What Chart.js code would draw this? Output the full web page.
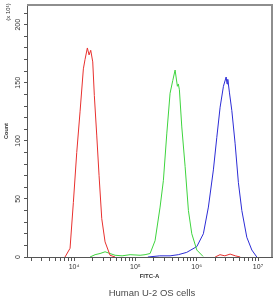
<!DOCTYPE html>
<html>
<head>
<meta charset="utf-8">
<script src="https://cdn.jsdelivr.net/npm/chart.js@4"></script>
<style>
  body { margin: 0; background: #fff; }
  #wrap { width: 275px; height: 300px; }
</style>
</head>
<body>
<div id="wrap"><canvas id="flowChart" width="275" height="300"></canvas></div>
<script>
// red histogram (FITC-A intensity, count x10)
const redFitc  = [7130, 8610, 9750, 11070, 12530, 14190, 15100, 16480, 17580, 18710, 20180, 21430, 23440, 25590, 28310, 32060, 38640, 46670];
const redCount = [0, 7.5, 47, 90, 125, 162, 170, 180, 174, 178, 168, 139, 105, 70, 33, 13, 1.5, 0];
// faint red noise near the blue peak
const redNoiseFitc  = [2000000, 2400000, 2880000, 3510000, 4270000, 5130000];
const redNoiseCount = [0, 2, 1, 2.5, 1, 0];

// green histogram
const greenFitc  = [18240, 22030, 26550, 32060, 38640, 46670, 60670, 82040, 119400, 143900, 173800, 209400, 252900, 286400, 325100, 368100, 407400, 444600, 484200, 501200, 522400, 571500, 647100, 732800, 831800, 1004600, 1270000];
const greenCount = [0, 2, 3, 4.5, 3, 1.5, 1, 2, 1.5, 2, 3, 14, 43, 66, 106, 141, 152, 161, 147, 149, 144, 112, 78, 40, 20, 6, 0.5];

// blue histogram
const blueFitc  = [160000, 250000, 368100, 501200, 688700, 1004600, 1285000, 1552000, 1871000, 2128000, 2410000, 2729000, 3020000, 3126000, 3214000, 3412000, 3741000, 4227000, 4786000, 5445000, 6561000, 7925000, 9550000];
const blueCount = [0, 1, 1, 2, 4, 9, 20, 43, 75, 103, 129, 147, 155, 149, 153, 142, 126, 98, 64, 40, 17, 6, 0];

// axes
const xMin = 1710, xMax = 16900000;
const yMin = 0, yMax = 217;
const xDecades = [1000, 10000, 100000, 1000000, 10000000];
const xTickLabels = { 10000: '10\u2074', 100000: '10\u2075', 1000000: '10\u2076', 10000000: '10\u2077' };
const yTickValues = [0, 10, 20, 30, 40, 50, 60, 70, 80, 90, 100, 110, 120, 130, 140, 150, 160, 170, 180, 190, 200, 210];
const yTickLabels = [0, 50, 100, 150, 200];
const caption = 'Human U-2 OS cells';

function pts(xs, ys) {
  return xs.map((x, i) => ({ x: x, y: ys[i] }));
}

const redPoints = pts(redFitc, redCount)
  .concat([{ x: 1000000, y: null }])
  .concat(pts(redNoiseFitc, redNoiseCount));

const xTicks = [];
xDecades.forEach(d => {
  for (let m = 1; m <= 9; m++) {
    const v = m * d;
    if (v >= xMin && v <= xMax) xTicks.push({ value: v, major: m === 1 });
  }
});

const extras = {
  id: 'extras',
  afterDraw(chart) {
    const ctx = chart.ctx;
    const a = chart.chartArea;
    const y = chart.scales.y;
    ctx.save();
    // frame on top and right
    ctx.strokeStyle = '#8e8e8e';
    ctx.lineWidth = 2;
    ctx.beginPath();
    ctx.moveTo(a.left, a.top);
    ctx.lineTo(a.right, a.top);
    ctx.lineTo(a.right, a.bottom);
    ctx.stroke();
    // rotated y tick labels
    ctx.fillStyle = '#333';
    ctx.font = '7px "Liberation Sans", Arial, sans-serif';
    ctx.textAlign = 'center';
    ctx.textBaseline = 'middle';
    yTickLabels.forEach(v => {
      ctx.save();
      ctx.translate(a.left - 8.5, y.getPixelForValue(v));
      ctx.rotate(-Math.PI / 2);
      ctx.fillText(String(v), 0, 0);
      ctx.restore();
    });
    // caption under the plot
    ctx.fillStyle = '#4a4a4a';
    ctx.font = '9.5px "Liberation Sans", Arial, sans-serif';
    ctx.fillText(caption, (a.left + a.right) / 2 + 2.5, 293);
    // unit multiplier
    ctx.fillStyle = '#333';
    ctx.font = '6px "Liberation Sans", Arial, sans-serif';
    ctx.translate(8, 12);
    ctx.rotate(-Math.PI / 2);
    ctx.fillText('(x 10\u00b9)', 0, 0);
    ctx.restore();
  }
};

const ctx = document.getElementById('flowChart').getContext('2d');
const flowChart = new Chart(ctx, {
  type: 'line',
  data: {
    datasets: [
      { label: 'red', data: redPoints, borderColor: '#e8302e' },
      { label: 'green', data: pts(greenFitc, greenCount), borderColor: '#3ed43e' },
      { label: 'blue', data: pts(blueFitc, blueCount), borderColor: '#2c2cd6' }
    ]
  },
  options: {
    responsive: false,
    animation: false,
    spanGaps: false,
    parsing: false,
    elements: {
      line: { borderWidth: 1, tension: 0, fill: false },
      point: { radius: 0 }
    },
    layout: { padding: { top: 5, right: 3, left: 0, bottom: 0 } },
    plugins: {
      legend: { display: false },
      tooltip: { enabled: false },
      title: { display: false }
    },
    scales: {
      x: {
        type: 'logarithmic',
        min: xMin,
        max: xMax,
        afterBuildTicks: s => { s.ticks = xTicks.map(t => ({ value: t.value, major: t.major })); },
        afterFit: s => { s.height = 43; },
        border: { display: true, color: '#555', width: 1 },
        grid: { drawOnChartArea: false, drawTicks: true, tickLength: 4, color: '#555' },
        ticks: {
          autoSkip: false,
          maxRotation: 0,
          minRotation: 0,
          padding: 2,
          color: '#333',
          font: { family: '"Liberation Sans", Arial, sans-serif', size: 7 },
          callback: v => xTickLabels[v] || ''
        },
        title: {
          display: true,
          text: 'FITC-A',
          color: '#333',
          font: { family: '"Liberation Sans", Arial, sans-serif', size: 6, weight: 'bold' },
          padding: { top: 0, bottom: 20.4 }
        }
      },
      y: {
        type: 'linear',
        min: yMin,
        max: yMax,
        afterBuildTicks: s => { s.ticks = yTickValues.map(v => ({ value: v })); },
        afterFit: s => { s.width = 27; },
        border: { display: true, color: '#555', width: 1 },
        grid: { drawOnChartArea: false, drawTicks: true, tickLength: 3, color: '#555' },
        ticks: { display: false },
        title: {
          display: true,
          text: 'Count',
          color: '#333',
          font: { family: '"Liberation Sans", Arial, sans-serif', size: 5.5, weight: 'bold' },
          padding: { top: 3.5, bottom: 0 }
        }
      }
    }
  },
  plugins: [extras]
});
</script>
</body>
</html>
